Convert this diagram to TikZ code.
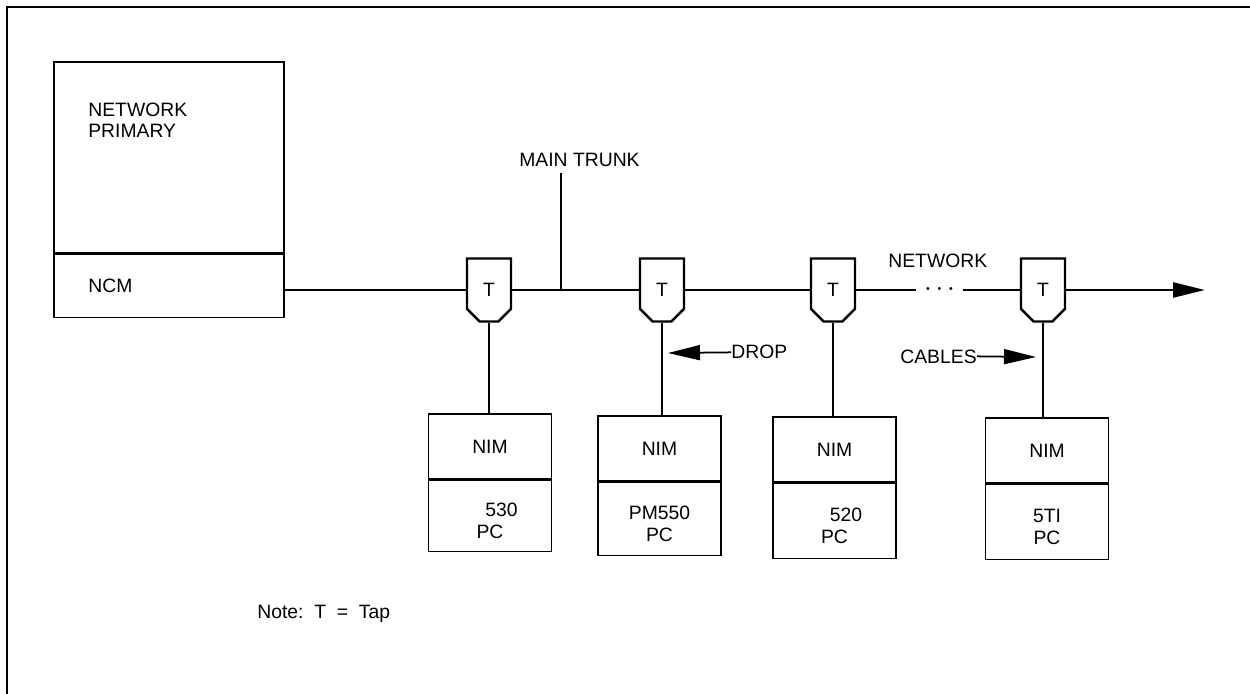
\documentclass[tikz,border=0pt]{standalone}
\usepackage{fontspec}
\setmainfont{Liberation Sans}
\usetikzlibrary{arrows.meta,positioning,shapes.misc}

\begin{document}
\begin{tikzpicture}[x=0.2mm, y=-0.2mm,
    font=\fontsize{11}{12.5}\selectfont,
    box/.style={draw, line width=0.9pt, inner sep=0pt, minimum width=24.6mm},
    pcbox/.style={box, align=center, minimum height=#1},
    tapbox/.style={draw, line width=1.4pt, chamfered rectangle,
      chamfered rectangle corners={south west,south east},
      chamfered rectangle xsep=2mm, chamfered rectangle ysep=2.4mm,
      minimum width=8.8mm, minimum height=12.6mm, inner sep=0pt},
    wire/.style={line width=1.4pt},
    drop/.style={line width=0.9pt},
    pointer/.style={line width=1pt, -{Triangle[length=6.4mm, width=3mm]}},
  ]
  \useasboundingbox (0,0) rectangle (1250,694);
  % frame
  \draw[line width=1.5pt] (7,694) -- (7,7) -- (1250,7);

  % network primary
  \node[box, minimum width=46mm, minimum height=38.2mm] (prim) at (169,157.5) {};
  \node[box, minimum width=46mm, minimum height=12.6mm, below=0pt of prim] (ncm) {};
  \node[anchor=base west, inner sep=0pt, align=left] (primlbl) at (88,138) {NETWORK\\PRIMARY};
  \node[anchor=base west, inner sep=0pt] (ncmlbl) at (88,293) {NCM};

  % taps
  \node[tapbox] (t1) at (489,290) {T};
  \node[tapbox] (t2) at (662,290) {T};
  \node[tapbox] (t3) at (833,290) {T};
  \node[tapbox] (t4) at (1043,290) {T};
  \node[minimum width=9.4mm, inner sep=0pt] (dots) at (939.5,290)
    {\fontsize{6}{6}\selectfont\textbullet\hspace{1.55mm}\textbullet\hspace{1.55mm}\textbullet};
  \coordinate (tend) at (1205,290);
  \coordinate (mtop) at (561,173);

  % trunk
  \draw[wire] (t1.west -| ncm.east) -- (t1.west);
  \draw[wire] (t1.east) -- (t2.west);
  \draw[wire] (t2.east) -- (t3.west);
  \draw[wire] (t3.east) -- (dots.west);
  \draw[wire] (dots.east) -- (t4.west);
  \draw[wire, -{Triangle[length=6.4mm, width=3mm]}] (t4.east) -- (tend);
  \draw[wire] (mtop) -- (mtop |- t1.west);
  \node[anchor=base west, inner sep=0pt] (mtlbl) at (519,167) {MAIN TRUNK};
  \node[anchor=base west, inner sep=0pt] (netlbl) at (888,268) {NETWORK};

  % stations
  \node[box, minimum height=13mm] (nim1) at (490,446.5) {NIM};
  \node[pcbox=14.2mm, below=0pt of nim1] (pc1) {\rule{0pt}{4.6mm}\hspace*{1.2em}530\\PC};
  \node[box, minimum height=13mm] (nim2) at (659.5,448.5) {NIM};
  \node[pcbox=14.6mm, below=0pt of nim2] (pc2) {\rule{0pt}{4.6mm}PM550\\PC};
  \node[box, minimum height=13mm] (nim3) at (834.5,449.5) {NIM};
  \node[pcbox=15mm, below=0pt of nim3] (pc3) {\rule{0pt}{4.6mm}\hspace*{1.2em}520\\PC};
  \node[box, minimum height=13mm] (nim4) at (1047,450.5) {NIM};
  \node[pcbox=15mm, below=0pt of nim4] (pc4) {\rule{0pt}{4.6mm}5TI\\PC};

  % drop cables
  \draw[drop] (t1.south) -- (t1.south |- nim1.north);
  \draw[drop] (t2.south) -- (t2.south |- nim2.north);
  \draw[drop] (t3.south) -- (t3.south |- nim3.north);
  \draw[drop] (t4.south) -- (t4.south |- nim4.north);

  \node[anchor=base west, inner sep=0pt] (droplbl) at (731,359) {DROP};
  \coordinate (droptip) at (668,353);
  \draw[pointer] (droplbl.west) -- (droptip);
  \node[anchor=base east, inner sep=0pt] (cbllbl) at (977,363) {CABLES};
  \coordinate (cbltip) at (1036,357);
  \draw[pointer] (cbllbl.east) -- (cbltip);

  \node[anchor=base west, inner sep=0pt] (note) at (257,618) {Note:~~T~~=~~Tap};
\end{tikzpicture}
\end{document}
